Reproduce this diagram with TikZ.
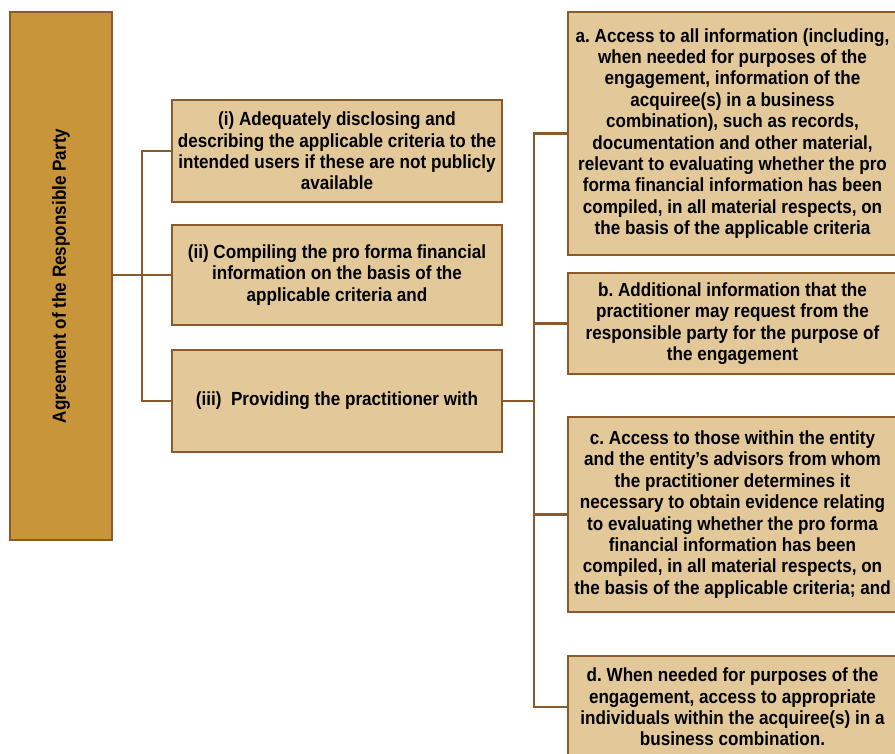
\documentclass[tikz,border=0pt]{standalone}
\usepackage{fontspec}
\setmainfont{Liberation Sans}[FakeStretch=0.9]
\usetikzlibrary{positioning}
\definecolor{pbrown}{HTML}{8B5A2B}
\definecolor{pgold}{HTML}{C8953A}
\definecolor{ptan}{HTML}{E3C99A}
\tikzset{
 box/.style={draw=pbrown,line width=2.6pt,fill=ptan,align=center,inner sep=2pt,
   font=\bfseries\fontsize{19}{21.4}\selectfont\frenchspacing},
 partybox/.style={box,fill=pgold,minimum width=102pt,minimum height=528pt},
 dutybox/.style={box,minimum width=330pt},
 itembox/.style={box,minimum width=329pt},
 link/.style={draw=pbrown,line width=2.8pt}
}

\begin{document}
\begin{tikzpicture}[x=1pt,y=-1pt]
 \useasboundingbox (0,0) rectangle (895,753);
 \node[partybox] (party) at (61,276) {\rotatebox{90}{Agreement of the Responsible Party}};
 % duties of the responsible party
 \node[dutybox,minimum height=102pt] (duty1) at (337,151) {(i) Adequately disclosing and\\describing the applicable criteria to the\\intended users if these are not publicly\\available};
 \node[dutybox,minimum height=100pt,below=20.4pt of duty1] (duty2) {(ii) Compiling the pro forma financial\\information on the basis of the\\applicable criteria and};
 \node[dutybox,minimum height=102pt,below=22.4pt of duty2] (duty3) {(iii)\ \ Providing the practitioner with};
 % what the practitioner is given
 \node[itembox,minimum height=243pt] (itemA) at (732.5,133.5) {a. Access to all information (including,\\when needed for purposes of the\\engagement, information of the\\acquiree(s) in a business\\combination), such as records,\\documentation and other material,\\relevant to evaluating whether the pro\\forma financial information has been\\compiled, in all material respects, on\\the basis of the applicable criteria};
 \node[itembox,minimum height=101pt] (itemB) at (732.5,323.5) {b. Additional information that the\\practitioner may request from the\\responsible party for the purpose of\\the engagement};
 \node[itembox,minimum height=195pt] (itemC) at (732.5,514.5) {c. Access to those within the entity\\and the entity’s advisors from whom\\the practitioner determines it\\necessary to obtain evidence relating\\to evaluating whether the pro forma\\financial information has been\\compiled, in all material respects, on\\the basis of the applicable criteria; and};
 \node[itembox,minimum height=102pt] (itemD) at (732.5,707) {d. When needed for purposes of the\\engagement, access to appropriate\\individuals within the acquiree(s) in a\\business combination.};
 \coordinate (lbus) at (142,0);
 \coordinate (rbus) at (534,0);
 \draw[link] (party.east |- duty2.west) -- (duty2.west);
 \draw[link] (duty1.west) -- (lbus |- duty1.west) -- (lbus |- duty3.west) -- (duty3.west);
 \draw[link] (duty3.east) -- (rbus |- duty3.east);
 \draw[link] (itemA.west) -- (rbus |- itemA.west) -- (rbus |- itemD.west) -- (itemD.west);
 \foreach \n in {itemB,itemC}
  \draw[link] (rbus |- \n.west) -- (\n.west);
\end{tikzpicture}
\end{document}
